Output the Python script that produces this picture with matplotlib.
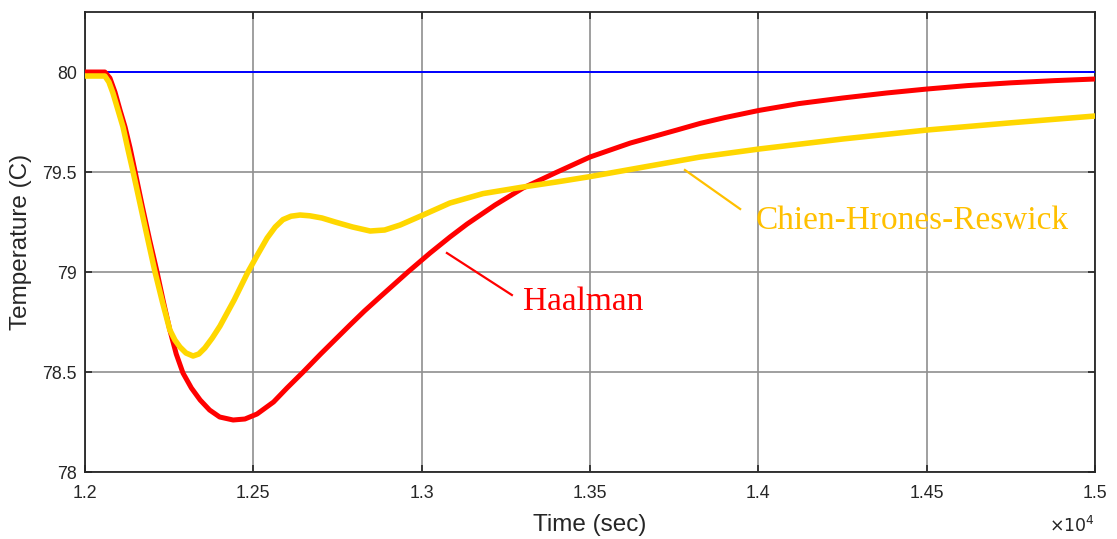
import matplotlib
matplotlib.use('Agg')
import matplotlib.pyplot as plt

# Reference temperature (setpoint)
setpoint_time = [12000, 15000]
setpoint_temp = [80.0, 80.0]

# Haalman tuning response
haalman_time = [12000, 12059, 12074, 12089, 12104, 12119, 12134, 12149, 12170, 12192,
                12214, 12233, 12252, 12271, 12291, 12316, 12342, 12370, 12400, 12440,
                12475, 12511, 12560, 12600, 12648, 12700, 12745, 12787, 12830, 12876,
                12959, 13025, 13084, 13135, 13218, 13301, 13396, 13500, 13620, 13758,
                13827, 13900, 14002, 14120, 14250, 14380, 14501, 14620, 14750, 14880, 15000]
haalman_temp = [80.0, 80.0, 79.97, 79.9, 79.81, 79.725, 79.62, 79.5, 79.33, 79.16,
                79.0, 78.85, 78.71, 78.59, 78.495, 78.42, 78.36, 78.31, 78.275, 78.26,
                78.265, 78.29, 78.35, 78.42, 78.5, 78.59, 78.665, 78.735, 78.805, 78.875,
                79.0, 79.095, 79.175, 79.24, 79.335, 79.42, 79.495, 79.575, 79.645, 79.71,
                79.743, 79.772, 79.808, 79.842, 79.87, 79.895, 79.915, 79.932, 79.946, 79.957,
                79.965]

# Chien-Hrones-Reswick tuning response
chr_time = [12000, 12059, 12071, 12083, 12098, 12113, 12128, 12143, 12165, 12187,
            12208, 12230, 12252, 12267, 12282, 12300, 12321, 12338, 12356, 12378,
            12401, 12443, 12484, 12512, 12541, 12565, 12588, 12612, 12639, 12668,
            12704, 12743, 12795, 12847, 12890, 12936, 13004, 13084, 13182, 13301, 13400,
            13500, 13660, 13827, 14002, 14250, 14501, 14750, 15000]
chr_temp = [79.98, 79.98, 79.95, 79.895, 79.81, 79.725, 79.61, 79.5, 79.33, 79.16,
            79.0, 78.85, 78.71, 78.66, 78.625, 78.595, 78.58, 78.59, 78.62, 78.67,
            78.73, 78.86, 79.0, 79.085, 79.17, 79.225, 79.262, 79.279, 79.285, 79.281,
            79.27, 79.25, 79.225, 79.205, 79.21, 79.235, 79.285, 79.345, 79.392, 79.425, 79.45,
            79.477, 79.525, 79.575, 79.615, 79.665, 79.71, 79.746, 79.78]

x_ticks = [12000, 12500, 13000, 13500, 14000, 14500, 15000]
x_tick_labels = ['1.2', '1.25', '1.3', '1.35', '1.4', '1.45', '1.5']
y_ticks = [78, 78.5, 79, 79.5, 80]
y_tick_labels = ['78', '78.5', '79', '79.5', '80']

plt.rcParams.update({'font.family': ['Liberation Sans', 'DejaVu Sans']})

fig = plt.figure(figsize=(11.17, 5.39), dpi=100)
ax = fig.add_axes([0.0761, 0.1243, 0.9042, 0.8534])

ax.grid(True, color='#8f8f8f', linewidth=1.2)
ax.set_axisbelow(True)

ax.plot(setpoint_time, setpoint_temp, color='#0000ff', linewidth=1.4, zorder=3)
ax.plot(haalman_time, haalman_temp, color='#ff0000', linewidth=3.6, zorder=4,
        solid_joinstyle='round', solid_capstyle='round')
ax.plot(chr_time, chr_temp, color='#ffd700', linewidth=4.0, zorder=5,
        solid_joinstyle='round', solid_capstyle='round')

ax.set_xlim(12000, 15000)
ax.set_ylim(78, 80.3)
ax.set_xticks(x_ticks)
ax.set_xticklabels(x_tick_labels)
ax.set_yticks(y_ticks)
ax.set_yticklabels(y_tick_labels)

ax.tick_params(direction='in', top=True, right=True, length=5, width=1.2,
               colors='#262626', labelsize=12.8)
ax.tick_params(axis='x', pad=9)
ax.tick_params(axis='y', pad=6)
for s in ax.spines.values():
    s.set_color('#262626')
    s.set_linewidth(1.3)

ax.set_xlabel('Time (sec)', fontsize=17.5, color='#262626', labelpad=9)
ax.set_ylabel('Temperature (C)', fontsize=17.5, color='#262626', labelpad=7)
ax.text(1.0, -0.115, r'$\times10^{4}$', transform=ax.transAxes, ha='right',
        va='center', fontsize=12.5, color='#262626')

# annotations: leader lines and labels
ax.plot([13075, 13268], [79.095, 78.885], color='#ff0000', lw=1.6, zorder=6)
ax.text(13302, 78.85, 'Haalman', fontsize=24, color='#ff0000',
        family='Liberation Serif', va='center', ha='left', zorder=6)
ax.plot([13782, 13946], [79.51, 79.315], color='#ffc000', lw=1.6, zorder=6)
ax.text(13992, 79.255, 'Chien-Hrones-Reswick', fontsize=24, color='#ffc000',
        family='Liberation Serif', va='center', ha='left', zorder=6)

fig.savefig('out.png', dpi=100)
